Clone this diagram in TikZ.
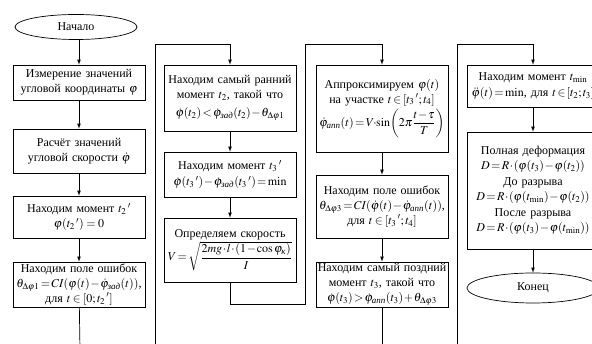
\documentclass[tikz,border=0pt]{standalone}
\usepackage{amsmath}
\usepackage{mathptmx}
\usepackage{fontspec}
\setmainfont{Liberation Serif}
\usetikzlibrary{shapes.geometric}
\thickmuskip=2mu plus 1mu\relax
\medmuskip=1mu plus 1mu\relax

\begin{document}
\begin{tikzpicture}[>=latex, x=1pt, y=-1pt, line width=0.7pt,
  box/.style={draw, align=center, text width=130, inner sep=1pt,
    font=\fontsize{12}{15}\selectfont},
  term/.style={draw, ellipse, minimum width=122, minimum height=25,
    inner sep=0pt, font=\fontsize{12}{15}\selectfont}]
  \clip (0,0) rectangle (592,344);

  % Column 1
  \node[term] (start) at (76,27) {Начало};
  \node[box, minimum height=35] (meas) at (79,82.5)
    {Измерение значений\\угловой координаты $\varphi$};
  \node[box, minimum height=44] (speed) at (79,151)
    {Расчёт значений\\угловой скорости $\dot\varphi$};
  \node[box, minimum height=42] (tzero) at (79,217)
    {Находим момент $t_2\,'$\\$\varphi(t_2\,')=0$};
  \node[box, minimum height=45] (err1) at (79,284.5)
    {Находим поле ошибок\\\mbox{$\theta_{\Delta\varphi1}=CI(\varphi(t)-\dot\varphi_{\textit{зад}}(t))$,}\\для $t\in[0;t_2\,']$};
  \coordinate (c1bot) at (80,350);

  \draw[->] (start.south -| meas.north) -- (meas);
  \draw[->] (meas) -- (speed);
  \draw[->] (speed) -- (tzero);
  \draw[->] (tzero) -- (err1);
  \draw (err1) -- (c1bot);

  % Column 2
  \node[box, minimum height=66] (early) at (230,98)
    {Находим самый ранний\\момент $t_2$, такой что\\[3pt]\mbox{$\dot\varphi(t_2)<\dot\varphi_{\textit{зад}}(t_2)-\theta_{\Delta\varphi1}$}};
  \node[box, minimum height=45] (tthree) at (230,174.5)
    {Находим момент $t_3\,'$\\[1pt]\mbox{$\dot\varphi(t_3\,')-\dot\varphi_{\textit{зад}}(t_3\,')=\min$}};
  \node[box, minimum height=64] (vel) at (230,250)
    {Определяем скорость\\\mbox{$V=\sqrt{\dfrac{2mg\cdot l\cdot(1-\cos\varphi_{\textit{к}})}{I}}$}};
  \coordinate (c2bot) at (155,350);
  \coordinate (c2top) at (155,44);

  \draw[->] (c2bot) -- (c2top) -| (early.north);
  \draw[->] (early) -- (tthree);
  \draw[->] (tthree) -- (vel);

  % Column 3
  \node[box, minimum height=87] (approx) at (382,108.5)
    {Аппроксимируем $\varphi(t)$\\на участке $t\in[t_3\,';t_4]$\\[2pt]\mbox{$\dot\varphi_{\textit{апп}}(t)=V\!\cdot\!\sin\!\left(2\pi\dfrac{t-\tau}{T}\right)$}};
  \node[box, minimum height=63] (err3) at (382,206.5)
    {Находим поле ошибок\\\mbox{$\theta_{\Delta\varphi3}=CI(\dot\varphi(t)-\dot\varphi_{\textit{апп}}(t))$,}\\для $t\in[t_3\,';t_4]$};
  \node[box, minimum height=45] (late) at (382,284.5)
    {Находим самый поздний\\момент $t_3$, такой что\\\mbox{$\dot\varphi(t_3)>\dot\varphi_{\textit{апп}}(t_3)+\theta_{\Delta\varphi3}$}};
  \coordinate (c3bot) at (305,304);
  \coordinate (c3top) at (305,44);
  \coordinate (c3end) at (382,350);

  \draw[->] (vel.south) |- (c3bot) -- (c3top) -| (approx.north);
  \draw[->] (approx) -- (err3);
  \draw[->] (err3) -- (late);
  \draw (late) -- (c3end);

  % Column 4
  \node[box, minimum height=42] (tmin) at (533,86)
    {Находим момент $t_{\min}$\\[1pt]\mbox{$\ddot\varphi(t)=\min$, для $t\in[t_2;t_3]$}};
  \node[box, minimum height=117] (defor) at (533,190.5)
    {Полная деформация\\\mbox{$D=R\cdot(\varphi(t_3)-\varphi(t_2))$}\\[1pt]До разрыва\\\mbox{$D=R\cdot(\varphi(t_{\min})-\varphi(t_2))$}\\[1pt]После разрыва\\\mbox{$D=R\cdot(\varphi(t_3)-\varphi(t_{\min}))$}};
  \node[term, minimum width=132, minimum height=30] (stop) at (533,288) {Конец};
  \coordinate (c4bot) at (457,350);
  \coordinate (c4top) at (457,44);

  \draw[->] (c4bot) -- (c4top) -| (tmin.north);
  \draw[->] (tmin) -- (defor);
  \draw[->] (defor) -- (stop);

\end{tikzpicture}
\end{document}
